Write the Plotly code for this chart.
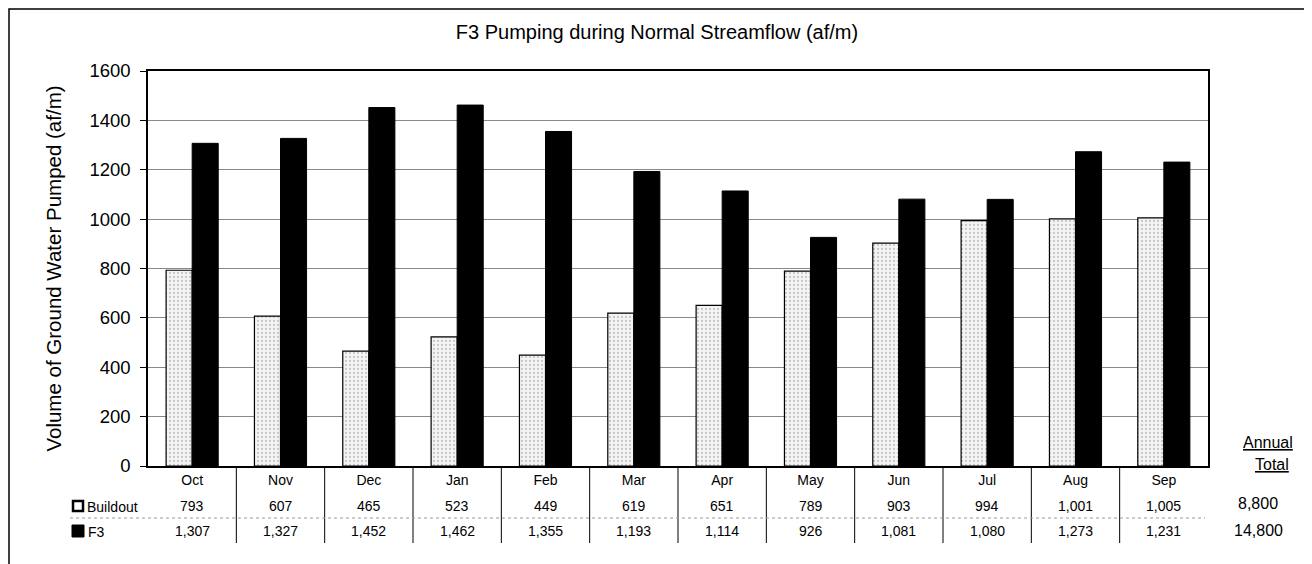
import plotly.graph_objs as go

months = ['Oct', 'Nov', 'Dec', 'Jan', 'Feb', 'Mar', 'Apr', 'May', 'Jun', 'Jul', 'Aug', 'Sep']
buildout = [793, 607, 465, 523, 449, 619, 651, 789, 903, 994, 1001, 1005]
f3 = [1307, 1327, 1452, 1462, 1355, 1193, 1114, 926, 1081, 1080, 1273, 1231]
total_buildout = '8,800'
total_f3 = '14,800'
y_ticks = [0, 200, 400, 600, 800, 1000, 1200, 1400, 1600]

FONT = 'Liberation Sans, Arial, sans-serif'

# plot area in page pixels: x 148..1208, y 71..466 (page has an 8px body margin)
def px(x):
    return (x - 148) / 1060

def py(y):
    return (466 - y) / 395

fig = go.Figure()
fig.add_trace(go.Bar(
    x=months, y=buildout, name='Buildout',
    marker=dict(color='white', line=dict(color='black', width=1.2),
                pattern=dict(shape='.', fgcolor='#9a9a9a', bgcolor='#f4f4f4', size=4, solidity=0.25)),
))
fig.add_trace(go.Bar(
    x=months, y=f3, name='F3',
    marker=dict(color='black', line=dict(color='black', width=1)),
))

tfont = dict(size=14, color='black')

def note(text, x, y, xref='paper', xanchor='center', font=tfont):
    fig.add_annotation(x=x, y=y, xref=xref, yref='paper', text=text, showarrow=False,
                       xanchor=xanchor, yanchor='middle', font=font)

# data table under the chart
for m, b, f in zip(months, buildout, f3):
    note(f"{b:,}", m, py(506), xref='x')
    note(f"{f:,}", m, py(531), xref='x')

# row labels with legend keys
fig.add_shape(type='rect', xref='paper', yref='paper', x0=px(73), x1=px(83), y0=py(511), y1=py(501),
              line=dict(color='black', width=2.5), fillcolor='white')
fig.add_shape(type='rect', xref='paper', yref='paper', x0=px(72), x1=px(84), y0=py(537), y1=py(525),
              line=dict(color='black', width=1), fillcolor='black')
note('Buildout', px(85), py(507), xanchor='left')
note('F3', px(86), py(532), xanchor='left')

# annual totals
big = dict(size=16, color='black')
note('<u>Annual</u>', px(1268), py(442), font=big)
note('<u>Total</u>', px(1272), py(464), font=big)
note(total_buildout, px(1258), py(503), font=big)
note(total_f3, px(1258), py(530), font=big)

# table grid lines
for i in range(1, len(months)):
    fig.add_shape(type='line', xref='x', yref='paper', x0=i - 0.5, x1=i - 0.5, y0=0, y1=py(543),
                  line=dict(color='black', width=1))
fig.add_shape(type='line', xref='paper', yref='paper', x0=px(70), x1=px(1205), y0=py(518), y1=py(518),
              line=dict(color='#999', width=1, dash='dot'))

# outer frame of the page
fig.add_shape(type='rect', xref='paper', yref='paper', x0=px(9), x1=px(1308), y0=py(580), y1=py(9),
              line=dict(color='black', width=1.5))

fig.update_layout(
    width=1312, height=564,
    margin=dict(l=140, r=112, t=63, b=106),
    paper_bgcolor='white', plot_bgcolor='white',
    font=dict(family=FONT, color='black'),
    title=dict(text='F3 Pumping during Normal Streamflow (af/m)', x=px(657), xref='paper',
               xanchor='center', y=1 - 24 / 564, yanchor='middle', font=dict(size=20)),
    barmode='group', bargap=0.41, bargroupgap=0,
    showlegend=False,
    xaxis=dict(showline=True, linecolor='black', linewidth=1.5, mirror=True,
               tickfont=dict(size=14), ticks='', ticklabelstandoff=0, showgrid=False),
    yaxis=dict(range=[0, 1600], tickvals=y_ticks, showline=True, linecolor='black', linewidth=1.5,
               mirror=True, ticks='outside', ticklen=6, tickcolor='black', ticklabelstandoff=6,
               gridcolor='#888', gridwidth=1, tickfont=dict(size=18.5), zeroline=False,
               title=dict(text='Volume of Ground Water Pumped (af/m)', font=dict(size=20.5), standoff=22)),
)

fig.write_html("out.html")
